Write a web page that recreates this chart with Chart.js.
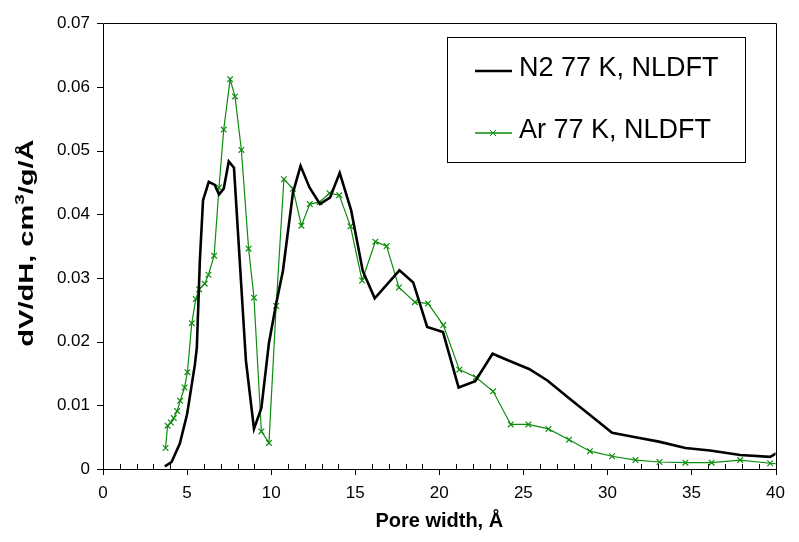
<!DOCTYPE html>
<html>
<head>
<meta charset="utf-8">
<script src="https://cdn.jsdelivr.net/npm/chart.js@4.4.1/dist/chart.umd.min.js"></script>
<style>
  html, body { margin: 0; padding: 0; background: #fff; }
  #wrap { width: 799px; height: 542px; }
</style>
</head>
<body>
<div id="wrap"><canvas id="psd" width="799" height="542"></canvas></div>
<script>
// N2 77 K, NLDFT (pore width in A, dV/dH)
const n2Width = [3.68, 4.08, 4.57, 5.00, 5.46, 5.58, 5.76, 5.95, 6.29, 6.65, 6.90, 7.18, 7.48, 7.79,
  8.50, 8.98, 9.42, 9.87, 10.30, 10.70, 11.30, 11.75, 12.28, 12.90, 13.50, 14.08, 14.76, 15.45,
  16.16, 17.63, 18.45, 19.28, 20.22, 21.15, 22.14, 23.17, 24.15, 25.34, 26.43, 27.72, 29.00,
  30.28, 31.67, 33.06, 34.64, 36.10, 37.90, 39.68, 40.80];
const n2Value = [0.0004, 0.0011, 0.0040, 0.0086, 0.0163, 0.0190, 0.0327, 0.0422, 0.0451, 0.0446,
  0.0431, 0.0440, 0.0483, 0.0473, 0.0170, 0.0063, 0.0096, 0.0198, 0.0260, 0.0311, 0.0434, 0.0476,
  0.0442, 0.0416, 0.0426, 0.0465, 0.0406, 0.0311, 0.0268, 0.0312, 0.0293, 0.0223, 0.0215, 0.0128,
  0.0138, 0.0181, 0.0170, 0.0157, 0.0139, 0.0111, 0.0084, 0.0057, 0.0050, 0.0043, 0.0033, 0.0029,
  0.0022, 0.0019, 0.0036];

// Ar 77 K, NLDFT
const arWidth = [3.72, 3.84, 4.04, 4.21, 4.41, 4.59, 4.85, 5.02, 5.28, 5.52, 5.72, 6.05, 6.27, 6.61,
  6.90, 7.18, 7.56, 7.85, 8.23, 8.66, 8.98, 9.42, 9.87, 10.30, 10.76, 11.30, 11.80, 12.30, 12.88,
  13.47, 14.05, 14.72, 15.41, 16.20, 16.87, 17.60, 18.55, 19.33, 20.24, 21.19, 22.18, 23.20, 24.25,
  25.30, 26.49, 27.72, 28.96, 30.28, 31.67, 33.10, 34.64, 36.20, 37.90, 39.68, 40.80];
const arValue = [0.0033, 0.0068, 0.0073, 0.0080, 0.0091, 0.0107, 0.0128, 0.0152, 0.0229, 0.0267,
  0.0282, 0.0291, 0.0305, 0.0335, 0.0442, 0.0533, 0.0612, 0.0585, 0.0501, 0.0346, 0.0269, 0.0059,
  0.0041, 0.0256, 0.0455, 0.0440, 0.0382, 0.0416, 0.0419, 0.0433, 0.0430, 0.0381, 0.0296, 0.0357,
  0.0350, 0.0285, 0.0262, 0.0260, 0.0226, 0.0156, 0.0144, 0.0122, 0.0070, 0.0070, 0.0063, 0.0046,
  0.0028, 0.0020, 0.0014, 0.0011, 0.0010, 0.0010, 0.0014, 0.0009, 0.0007];

const seriesLabels = ['N2 77 K, NLDFT', 'Ar 77 K, NLDFT'];
const xTickStep = 5;
const yTickStep = 0.01;

const FONT = "'Liberation Sans', Arial, sans-serif";
const GREEN = '#0c8c0c';

function toPoints(xs, ys) {
  return xs.map((x, i) => ({ x: x, y: ys[i] }));
}

// frame, ticks (major outside, minor inside on x) drawn like the Excel plot
const framePlugin = {
  id: 'frame',
  beforeDatasetsDraw(chart) {
    const { ctx, chartArea: a, scales } = chart;
    const xs = scales.x, ys = scales.y;
    ctx.save();
    ctx.strokeStyle = '#000';
    ctx.lineWidth = 1;
    ctx.beginPath();
    ctx.rect(Math.round(a.left) + 0.5, Math.round(a.top) + 0.5,
      Math.round(a.right - a.left), Math.round(a.bottom - a.top));
    ctx.stroke();

    ctx.beginPath();
    for (let v = 0; v <= 40; v += 1) {
      const px = Math.round(xs.getPixelForValue(v)) + 0.5;
      if (v % xTickStep === 0) {
        ctx.moveTo(px, a.bottom);
        ctx.lineTo(px, a.bottom + 6);
      } else {
        ctx.moveTo(px, a.bottom);
        ctx.lineTo(px, a.bottom - 5);
      }
    }
    for (let k = 0; k <= 7; k++) {
      const py = Math.round(ys.getPixelForValue(k * yTickStep)) + 0.5;
      ctx.moveTo(a.left - 6, py);
      ctx.lineTo(a.left, py);
    }
    ctx.stroke();
    ctx.restore();
  }
};

// y title with a real superscript 3, a bit stretched like the source
const yTitlePlugin = {
  id: 'yTitle',
  afterDraw(chart) {
    const { ctx, chartArea: a } = chart;
    const parts = [
      { t: 'dV/dH, cm', size: 20, dy: 0 },
      { t: '3', size: 13, dy: -7 },
      { t: '/g/Å', size: 20, dy: 0 },
    ];
    ctx.save();
    ctx.translate(27, (a.top + a.bottom) / 2 - 3);
    ctx.rotate(-Math.PI / 2);
    ctx.scale(1.45, 1);
    ctx.fillStyle = '#000';
    ctx.textBaseline = 'middle';
    let total = 0;
    parts.forEach((p) => {
      ctx.font = 'bold ' + p.size + 'px ' + FONT;
      p.w = ctx.measureText(p.t).width;
      total += p.w;
    });
    let x = -total / 2;
    parts.forEach((p) => {
      ctx.font = 'bold ' + p.size + 'px ' + FONT;
      ctx.fillText(p.t, x, p.dy);
      x += p.w;
    });
    ctx.restore();
  }
};

// legend box inside the plot area
const legendBoxPlugin = {
  id: 'legendBox',
  afterDraw(chart) {
    const { ctx } = chart;
    const box = { x: 447, y: 37, w: 298, h: 125 };
    ctx.save();
    ctx.fillStyle = '#fff';
    ctx.fillRect(box.x, box.y, box.w, box.h);
    ctx.strokeStyle = '#000';
    ctx.lineWidth = 1;
    ctx.strokeRect(box.x + 0.5, box.y + 0.5, box.w, box.h);

    const rows = [71, 133];
    chart.data.datasets.forEach((ds, i) => {
      const y = rows[i];
      ctx.strokeStyle = ds.borderColor;
      ctx.lineWidth = i === 0 ? 2.5 : 1.5;
      ctx.beginPath();
      ctx.moveTo(475, y);
      ctx.lineTo(512, y);
      ctx.stroke();
      if (i === 1) {
        ctx.lineWidth = 1;
        ctx.beginPath();
        ctx.moveTo(490, y - 3); ctx.lineTo(496, y + 3);
        ctx.moveTo(496, y - 3); ctx.lineTo(490, y + 3);
        ctx.stroke();
      }
      ctx.fillStyle = '#000';
      ctx.font = '27px ' + FONT;
      ctx.textBaseline = 'middle';
      ctx.fillText(ds.label, 519, y - 2);
    });
    ctx.restore();
  }
};

const ctx = document.getElementById('psd').getContext('2d');
new Chart(ctx, {
  type: 'scatter',
  data: {
    datasets: [
      {
        label: seriesLabels[0],
        data: toPoints(n2Width, n2Value),
        showLine: true,
        borderColor: '#000',
        backgroundColor: '#000',
        borderWidth: 2.6,
        pointRadius: 0,
        tension: 0,
      },
      {
        label: seriesLabels[1],
        data: toPoints(arWidth, arValue),
        showLine: true,
        borderColor: GREEN,
        backgroundColor: GREEN,
        borderWidth: 1.2,
        pointStyle: 'crossRot',
        pointRadius: 4,
        pointBorderWidth: 1.2,
        pointBorderColor: GREEN,
        tension: 0,
      },
    ],
  },
  options: {
    responsive: false,
    animation: false,
    devicePixelRatio: 1,
    layout: { padding: { left: 0, right: 22, top: 14, bottom: 0 } },
    plugins: {
      legend: { display: false },
      tooltip: { enabled: false },
    },
    scales: {
      x: {
        type: 'linear',
        min: 0,
        max: 40,
        grid: { display: false, drawTicks: false },
        border: { display: false },
        ticks: {
          stepSize: xTickStep,
          color: '#000',
          font: { family: FONT, size: 17 },
          padding: 14,
          maxRotation: 0,
        },
        title: {
          display: true,
          text: 'Pore width, Å',
          color: '#000',
          font: { family: FONT, size: 20, weight: 'bold' },
          padding: { top: 9, bottom: 9 },
        },
        afterFit(scale) { scale.height = 73; },
      },
      y: {
        type: 'linear',
        min: 0,
        max: 0.07,
        grid: { display: false, drawTicks: false },
        border: { display: false },
        ticks: {
          stepSize: yTickStep,
          color: '#000',
          font: { family: FONT, size: 17 },
          padding: 13,
          callback: (v) => (v === 0 ? '0' : v.toFixed(2)),
        },
        title: { display: false },
        afterFit(scale) { scale.width = 103; },
      },
    },
  },
  plugins: [framePlugin, yTitlePlugin, legendBoxPlugin],
});
</script>
</body>
</html>
